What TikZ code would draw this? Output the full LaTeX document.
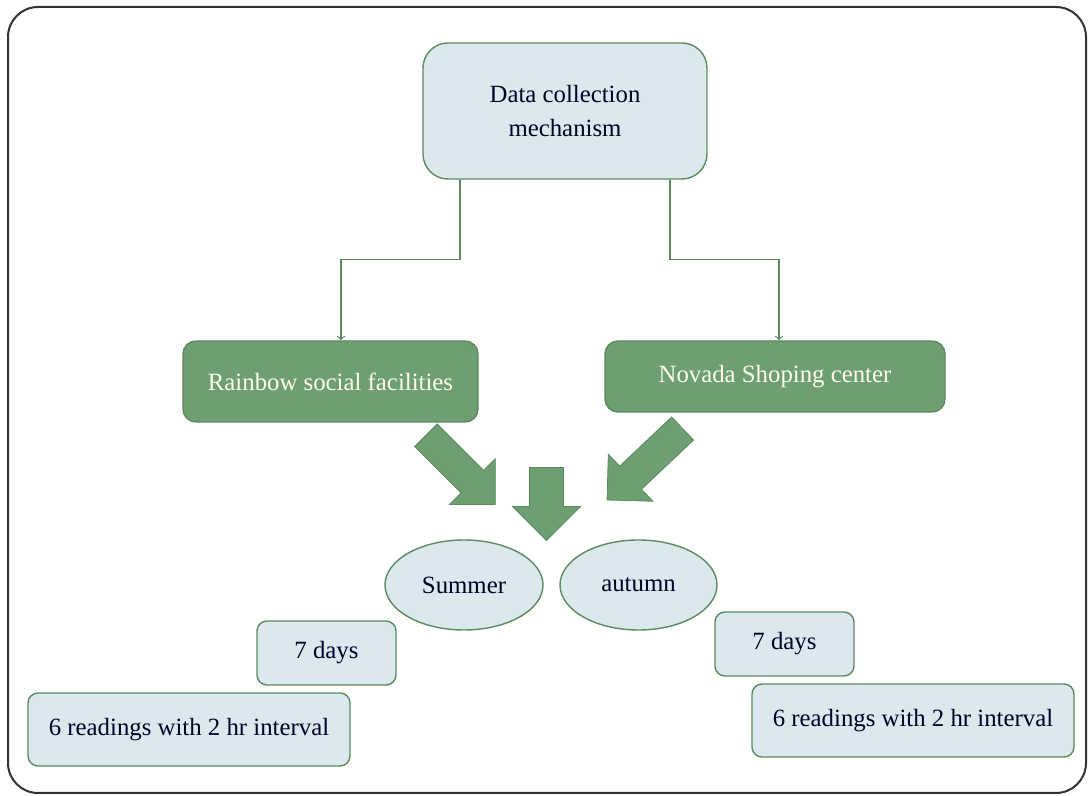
\documentclass[tikz,border=0pt]{standalone}
\usepackage{fontspec}
\setmainfont{Liberation Serif}
\usepackage{tikz}
\usetikzlibrary{arrows}
\usetikzlibrary{shapes.geometric}
\usetikzlibrary{shapes.arrows}

\definecolor{paleblue}{HTML}{DBE8EE}
\definecolor{leaf}{HTML}{6E9F73}
\definecolor{rim}{HTML}{5B8A5E}

\begin{document}
\begin{tikzpicture}[x=0.5pt,y=-0.5pt,>=to,
	pale/.style={rectangle,rounded corners=5pt,draw=rim,fill=paleblue,line width=0.7pt,inner sep=0pt,
		font=\fontsize{12.4}{17}\selectfont,text=black!85!blue,align=center},
	dark/.style={rectangle,rounded corners=6.5pt,draw=rim,fill=leaf,line width=0.7pt,inner sep=0pt,
		font=\fontsize{12.4}{14}\selectfont,text=white!90!yellow},
	season/.style={ellipse,draw=rim,fill=paleblue,line width=0.7pt,inner sep=0pt,
		font=\fontsize{12.4}{14}\selectfont,text=black!85!blue},
	fat/.style={single arrow,fill=leaf,draw=rim,line width=0.4pt,inner sep=0pt,
		single arrow head extend=8.25pt},
	feed/.style={->,draw=rim,line width=0.6pt}]
	\useasboundingbox (0,0) rectangle (1089,796);
	\draw[line width=1pt,draw=black!80,rounded corners=15pt] (8,7) rectangle (1086,793);

	\node[pale,rounded corners=12.5pt,minimum width=142pt,minimum height=68pt] (dc) at (565,111) {Data collection\\mechanism};
	\node[dark,minimum width=147.5pt,minimum height=40.5pt] (rain) at (330.5,381.5) {Rainbow social facilities};
	\node[dark,minimum width=170pt,minimum height=35.5pt] (nov) at (775,376.5) {Novada Shoping center};

	\node[season,minimum width=79pt,minimum height=45pt] (sum) at (464,585) {Summer};
	\node[season,minimum width=78.5pt,minimum height=45pt] (aut) at (638.5,585) {autumn};

	\node[pale,minimum width=69.5pt,minimum height=32pt] (dl) at (326.5,653) {7 days};
	\node[pale,minimum width=161pt,minimum height=36.5pt] (rl) at (189,729.5) {6 readings with 2 hr interval};
	\node[pale,minimum width=69.5pt,minimum height=32pt] (dr) at (784.5,644) {7 days};
	\node[pale,minimum width=161pt,minimum height=36.5pt] (rr) at (913,720.5) {6 readings with 2 hr interval};

	% block arrows down to the seasons
	\node[fat,minimum height=49pt,rotate=-45] (fl) at (455,464.3) {\rule{0pt}{15.5pt}};
	\node[fat,minimum height=36.5pt,single arrow head extend=8.5pt,rotate=-90] (fm) at (546.5,495.5) {\rule{0pt}{16.5pt}};
	\node[fat,minimum height=52pt,rotate=-136.6] (fr) at (650.6,458.8) {\rule{0pt}{15.5pt}};

	\draw[feed] ([xshift=-52.5pt]dc.south) -- ++(0,80) -| ([xshift=5.25pt]rain.north);
	\draw[feed] ([xshift=52.5pt]dc.south) -- ++(0,80) -| ([xshift=2pt]nov.north);
\end{tikzpicture}
\end{document}
